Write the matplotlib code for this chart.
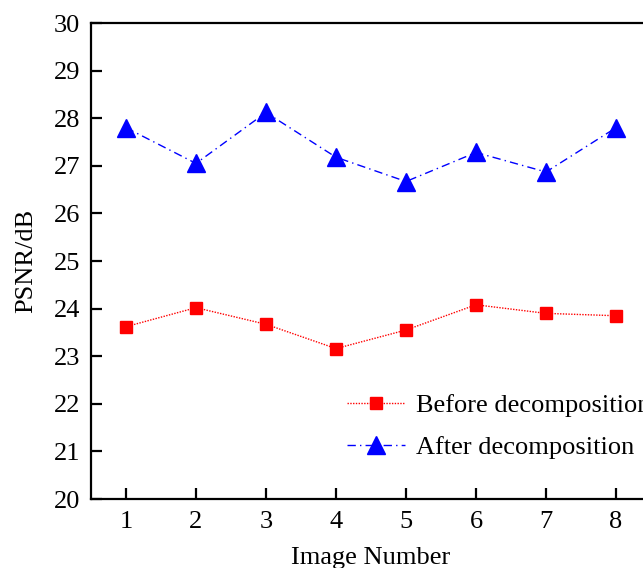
import matplotlib
matplotlib.use("Agg")
import matplotlib.pyplot as plt

plt.rcParams['font.family'] = ['Liberation Serif', 'DejaVu Serif']
plt.rcParams['mathtext.fontset'] = 'stix'

image_numbers = [1, 2, 3, 4, 5, 6, 7, 8]
before = [23.62, 24.02, 23.67, 23.16, 23.55, 24.08, 23.90, 23.85]
after = [27.80, 27.05, 28.12, 27.18, 26.67, 27.28, 26.87, 27.80]
x_ticks = [1, 2, 3, 4, 5, 6, 7, 8]
y_ticks = [20, 21, 22, 23, 24, 25, 26, 27, 28, 29, 30]
labels = ['Before decomposition', 'After decomposition']

fig = plt.figure(figsize=(6.43, 5.68), dpi=100)
ax = fig.add_axes([91/643, 1-499/568, 560/643, (499-23)/568])

ax.plot(image_numbers, before, color='red', linestyle=(0, (1, 1)), lw=1.0,
        marker='s', markersize=8, markeredgecolor='red', markerfacecolor='red',
        label=labels[0])
ax.plot(image_numbers, after, color='blue', linestyle=(0, (6, 3, 1, 3)), lw=1.0,
        marker='^', markersize=13, markeredgecolor='blue', markerfacecolor='blue',
        label=labels[1])

ax.set_xlim(0.5, 8.5)
ax.set_ylim(20, 30)
ax.set_xticks(x_ticks)
ax.set_yticks(y_ticks)
for s in ax.spines.values():
    s.set_linewidth(1.6)
ax.tick_params(direction='in', length=8, width=1.6, labelsize=19)
ax.tick_params(axis='x', pad=9)
ax.tick_params(axis='y', pad=8)
ax.set_xlabel('Image Number', fontsize=19, labelpad=10)
ax.set_ylabel('PSNR/dB', fontsize=19, labelpad=12)

ax.legend(loc='upper left', bbox_to_anchor=(347/643, 1-394/568),
          bbox_transform=fig.transFigure, frameon=False, fontsize=19,
          borderpad=0, borderaxespad=0, handlelength=2.2, handletextpad=0.4,
          labelspacing=0.68)

fig.savefig('out.png', dpi=100)
